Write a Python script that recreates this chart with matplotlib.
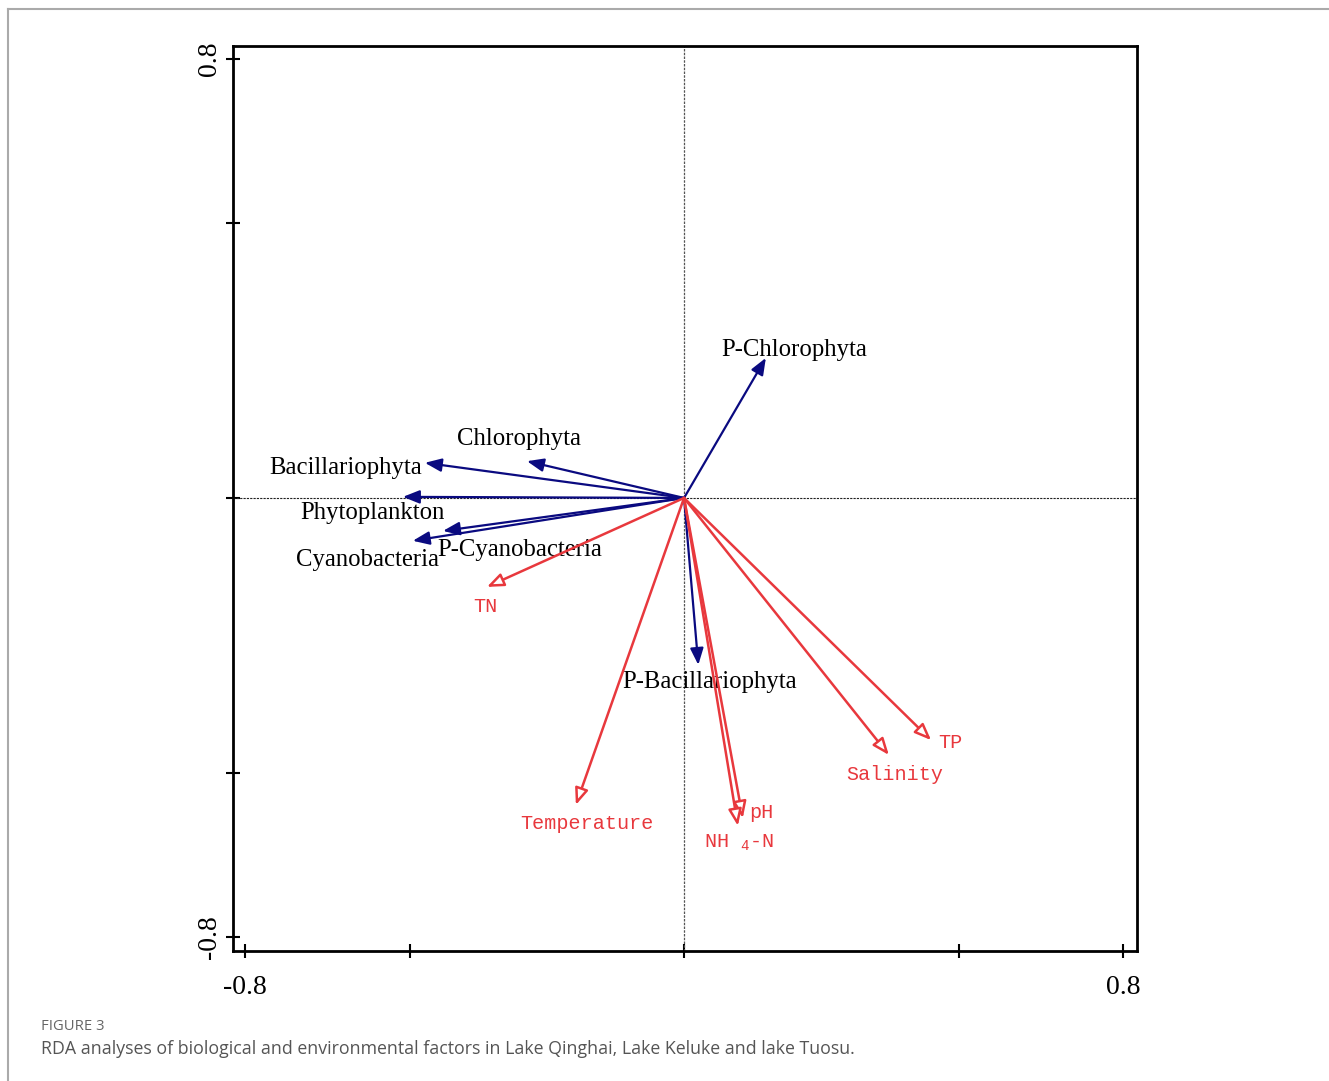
import matplotlib
matplotlib.use("Agg")
import matplotlib.pyplot as plt
from matplotlib.lines import Line2D

# species (biological) vectors
species = ["P-Chlorophyta", "Chlorophyta", "Bacillariophyta", "Phytoplankton",
           "P-Cyanobacteria", "Cyanobacteria", "P-Bacillariophyta"]
sp_x = [0.149, -0.286, -0.472, -0.512, -0.439, -0.494, 0.026]
sp_y = [0.255, 0.067, 0.064, 0.002, -0.060, -0.078, -0.304]
sp_lx = [0.200, -0.300, -0.617, -0.568, -0.299, -0.576, 0.047]
sp_ly = [0.270, 0.107, 0.055, -0.027, -0.095, -0.113, -0.335]

# environmental vectors
env = ["TN", "Temperature", "pH", "NH $_{4}$-N", "Salinity", "TP"]
env_x = [-0.359, -0.197, 0.107, 0.098, 0.373, 0.450]
env_y = [-0.162, -0.559, -0.583, -0.597, -0.468, -0.441]
env_lx = [-0.361, -0.177, 0.140, 0.100, 0.383, 0.485]
env_ly = [-0.197, -0.592, -0.572, -0.628, -0.503, -0.446]

tick_vals = [-0.8, -0.5, 0, 0.5, 0.8]
tick_labels = ["-0.8", "", "", "", "0.8"]

navy = "#0a0a80"
red = "#e8383d"

plt.rcParams["mathtext.fontset"] = "custom"
plt.rcParams["mathtext.rm"] = "Liberation Mono"
plt.rcParams["mathtext.it"] = "Liberation Mono"

fig = plt.figure(figsize=(13.29, 10.81), dpi=100)

# page frame lines (gray)
fig.add_artist(Line2D([7.5 / 1329, 7.5 / 1329], [0, 1 - 9 / 1081], color="#aaaaaa", lw=1.5))
fig.add_artist(Line2D([7.5 / 1329, 1], [1 - 9 / 1081, 1 - 9 / 1081], color="#aaaaaa", lw=1.5))

ax = fig.add_axes([233 / 1329, 1 - 951 / 1081, 904 / 1329, 905 / 1081])
ax.set_xlim(-0.8215, 0.825)
ax.set_ylim(-0.825, 0.823)

ax.axhline(0, color="#222222", lw=0.8, ls=(0, (2, 1)))
ax.axvline(0, color="#555555", lw=0.9, ls=(0, (2, 1)))

for name, x, y, lx, ly in zip(species, sp_x, sp_y, sp_lx, sp_ly):
    ax.annotate("", xy=(x, y), xytext=(0, 0),
                arrowprops=dict(arrowstyle="-|>,head_length=1.0,head_width=0.4",
                                color=navy, lw=1.6, shrinkA=0, shrinkB=0))
    ax.text(lx, ly, name, family="Liberation Serif", fontsize=17.8,
            ha="center", va="center", color="black")

for name, x, y, lx, ly in zip(env, env_x, env_y, env_lx, env_ly):
    ax.annotate("", xy=(x, y), xytext=(0, 0),
                arrowprops=dict(arrowstyle="-|>,head_length=1.0,head_width=0.4",
                                ec=red, fc="white", lw=1.8, shrinkA=0, shrinkB=0))
    ax.text(lx, ly, name, family="Liberation Mono", fontsize=14.5,
            ha="center", va="center", color=red)

for s in ax.spines.values():
    s.set_linewidth(2)
ax.set_xticks(tick_vals)
ax.set_xticklabels(tick_labels)
ax.set_yticks(tick_vals)
ax.set_yticklabels(tick_labels, rotation=90, va="center")
ax.tick_params(direction="inout", length=10, width=1.5, labelsize=20)
ax.tick_params(axis="x", pad=12)
ax.tick_params(axis="y", pad=3)
for lab in ax.get_xticklabels() + ax.get_yticklabels():
    lab.set_family("Liberation Serif")

fig.text(41 / 1329, 1 - 1026 / 1081, "FIGURE 3", family="Open Sans",
         fontsize=10.7, color="#666666", va="center")
fig.text(41 / 1329, 1 - 1049 / 1081,
         "RDA analyses of biological and environmental factors in Lake Qinghai, Lake Keluke and lake Tuosu.",
         family="Open Sans", fontsize=12.8, color="#555555", va="center")

fig.savefig("out.png", dpi=100)
